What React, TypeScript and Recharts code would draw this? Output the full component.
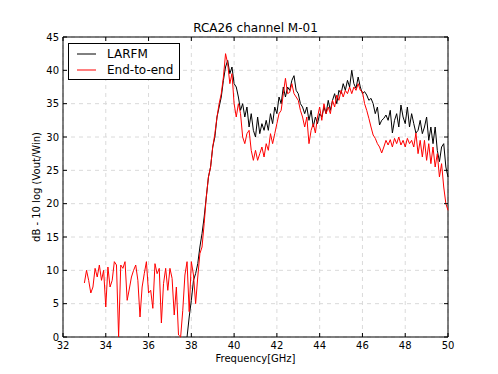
import { LineChart, Line, XAxis, YAxis, CartesianGrid, ReferenceArea } from 'recharts';

// sampling grid of the sweep (GHz)
const RED_START = 33.0;
const BLACK_START = 37.8;
const STEP = 0.1;

// End-to-end, 33.0 .. 50.0 GHz
const RED_DB = [
  8.1, 10.0, 8.5, 6.6, 7.5, 10.3, 9.0, 10.8, 8.5, 10.0,
  4.5, 10.5, 7.5, 8.5, 11.3, 10.8, 0, 10.8, 10.3, 11.3,
  5.5, 7.2, 9.0, 10.0, 10.8, 8.5, 3.0, 7.5, 9.5, 11.3,
  6.6, 7.0, 4.3, 11.0, 9.5, 10.3, 2.1, 8.0, 10.3, 7.0,
  10.3, 8.8, 3.3, 7.5, 0.3, 0, 4.0, 9.3, 11.3, 3.8,
  11.3, 9.3, 5.0, 9.0, 12.5, 13.5, 17.0, 21.0, 24.0, 25.5,
  28.5, 30.5, 33.0, 35.0, 36.5, 39.0, 42.5, 41.0, 38.0, 39.5,
  35.0, 33.0, 35.0, 33.5, 30.0, 29.0, 30.5, 31.0, 28.0, 26.5,
  28.0, 26.5, 27.5, 28.5, 27.0, 29.0, 28.0, 30.5, 29.0, 30.5,
  32.0, 33.5, 34.0, 36.5, 38.8, 36.5, 36.7, 38.0, 36.5, 36.0,
  35.5, 34.0, 33.0, 31.5, 33.0, 29.0, 31.0, 32.0, 30.6, 33.0,
  34.5, 32.5, 35.0, 33.5, 34.5, 33.5, 35.5, 34.5, 36.3, 35.5,
  37.0, 36.0, 37.0, 36.5, 37.5, 36.5, 37.5, 37.0, 38.0, 37.0,
  36.8, 35.0, 34.0, 32.8, 31.5, 30.3, 29.8, 29.0, 28.5, 27.6,
  28.5, 29.5, 28.8, 29.6, 28.5, 29.8, 29.0, 30.0, 28.8, 29.5,
  28.5, 29.8, 29.0, 29.5, 28.5, 30.6, 27.5, 29.5, 27.0, 29.5,
  26.5, 29.0, 26.0, 28.5, 25.5, 27.5, 24.0, 26.0, 22.5, 20.0,
  19.0,
];

// LARFM, 37.8 .. 50.0 GHz
const BLACK_DB = [
  0, 3.0,
  5.5, 8.5, 9.5, 11.0, 13.5, 15.5, 18.0, 21.0, 24.0, 25.5,
  28.5, 30.0, 33.0, 34.5, 36.0, 38.5, 40.5, 41.5, 39.5, 40.5,
  38.0, 37.5, 36.0, 34.0, 35.0, 33.0, 34.5, 31.5, 33.5, 31.0,
  30.0, 33.0, 30.5, 32.0, 31.0, 32.5, 31.0, 33.5, 32.0, 34.5,
  33.5, 36.0, 35.0, 37.5, 36.0, 37.5, 37.0, 38.5, 39.2, 37.0,
  36.5, 35.0, 34.5, 33.5, 34.5, 32.5, 34.0, 31.5, 33.0, 32.0,
  33.5, 33.0, 34.5, 33.5, 35.5, 34.0, 35.5, 36.5, 35.0, 37.0,
  36.5, 38.0, 37.0, 38.5, 37.5, 40.0, 38.0, 37.3, 39.0, 37.5,
  36.5, 36.8, 36.3, 35.5, 35.8, 35.0, 33.5, 34.5, 31.8, 32.5,
  32.8, 33.3, 32.5, 34.0, 30.6, 32.5, 33.5, 31.5, 34.8, 33.0,
  32.0, 34.5, 31.5, 33.5, 32.0, 30.6, 31.0, 32.5, 30.5, 31.5,
  33.0, 29.5, 31.5, 29.0, 31.5, 28.0, 26.3, 28.5, 29.0, 25.5,
  24.0,
];

const X_TICKS = [32, 34, 36, 38, 40, 42, 44, 46, 48, 50];
const Y_TICKS = [0, 5, 10, 15, 20, 25, 30, 35, 40, 45];

const LEGEND = [
  { color: '#000', name: 'LARFM' },
  { color: '#ff0000', name: 'End-to-end' },
];

const rows = RED_DB.map((v, i) => {
  const f = +(RED_START + i * STEP).toFixed(1);
  const j = Math.round((f - BLACK_START) / STEP);
  return { f, red: v, black: j >= 0 ? BLACK_DB[j] : null };
});

const W = 498;
const H = 374;
const M = { top: 37, right: 50, bottom: 7, left: 23 };
const Y_W = 40;
const X_H = 30;
const PL = M.left + Y_W;
const PR = W - M.right;
const PT = M.top;
const PB = H - M.bottom - X_H;
const FONT = '"DejaVu Sans", sans-serif';

const XTick = ({ x, payload }: any) => (
  <g>
    <line x1={x} x2={x} y1={PB} y2={PB - 4} stroke="#000" />
    <line x1={x} x2={x} y1={PT} y2={PT + 4} stroke="#000" />
    <text x={x} y={PB + 12} textAnchor="middle" fontSize={10} fontFamily={FONT} fill="#000">
      {payload.value}
    </text>
  </g>
);

const YTick = ({ y, payload }: any) => (
  <g>
    <line x1={PL} x2={PL + 4} y1={y} y2={y} stroke="#000" />
    <line x1={PR} x2={PR - 4} y1={y} y2={y} stroke="#000" />
    <text x={PL - 4} y={y + 3.5} textAnchor="end" fontSize={10} fontFamily={FONT} fill="#000">
      {payload.value}
    </text>
  </g>
);

const YLabel = ({ viewBox }: any) => {
  const cx = viewBox.x + 17;
  const cy = viewBox.y + viewBox.height / 2;
  return (
    <text x={cx} y={cy} transform={`rotate(-90 ${cx} ${cy})`} textAnchor="middle"
      fontSize={10} fontFamily={FONT} fill="#000">
      dB - 10 log (Vout/Win)
    </text>
  );
};

const LegendBox = () => (
  <div style={{ position: 'absolute', left: 68, top: 43, width: 110, height: 35, border: '1px solid #000', background: '#fff', fontFamily: FONT, fontSize: 12 }}>
    {LEGEND.map((r, i) => (
      <div key={r.name} style={{ display: 'flex', alignItems: 'center', height: 16, marginTop: i === 0 ? 2 : 0 }}>
        <svg width={38} height={16}>
          <line x1={8} x2={27} y1={8} y2={8} stroke={r.color} strokeWidth={1} />
        </svg>
        <span>{r.name}</span>
      </div>
    ))}
  </div>
);

const App = () => (
  <div style={{ position: 'absolute', left: 0, top: 0, width: W, height: H, background: '#fff' }}>
    <div style={{ position: 'absolute', left: PL, width: PR - PL, top: 21, textAlign: 'center', fontFamily: FONT, fontSize: 12, lineHeight: '15px' }}>
      RCA26 channel M-01
    </div>
    <LineChart width={W} height={H} data={rows} margin={M}>
      <CartesianGrid stroke="#dadada" strokeDasharray="4 4" />
      <XAxis
        dataKey="f"
        type="number"
        domain={[32, 50]}
        ticks={X_TICKS}
        height={X_H}
        axisLine={false}
        tickLine={false}
        tick={<XTick />}
        interval={0}
        label={{ value: 'Frequency[GHz]', position: 'insideBottom', offset: 5, fontSize: 10, fontFamily: FONT, fill: '#000' }}
      />
      <YAxis
        type="number"
        domain={[0, 45]}
        ticks={Y_TICKS}
        width={Y_W}
        axisLine={false}
        tickLine={false}
        tick={<YTick />}
        interval={0}
        label={{ content: <YLabel /> }}
      />
      <Line type="linear" dataKey="black" stroke="#000" strokeWidth={1} dot={false} isAnimationActive={false} />
      <Line type="linear" dataKey="red" stroke="#ff0000" strokeWidth={1} dot={false} isAnimationActive={false} />
      <ReferenceArea x1={32} x2={50} y1={0} y2={45} fill="none" stroke="#000" strokeWidth={1} />
    </LineChart>
    <LegendBox />
  </div>
);

export default App;
